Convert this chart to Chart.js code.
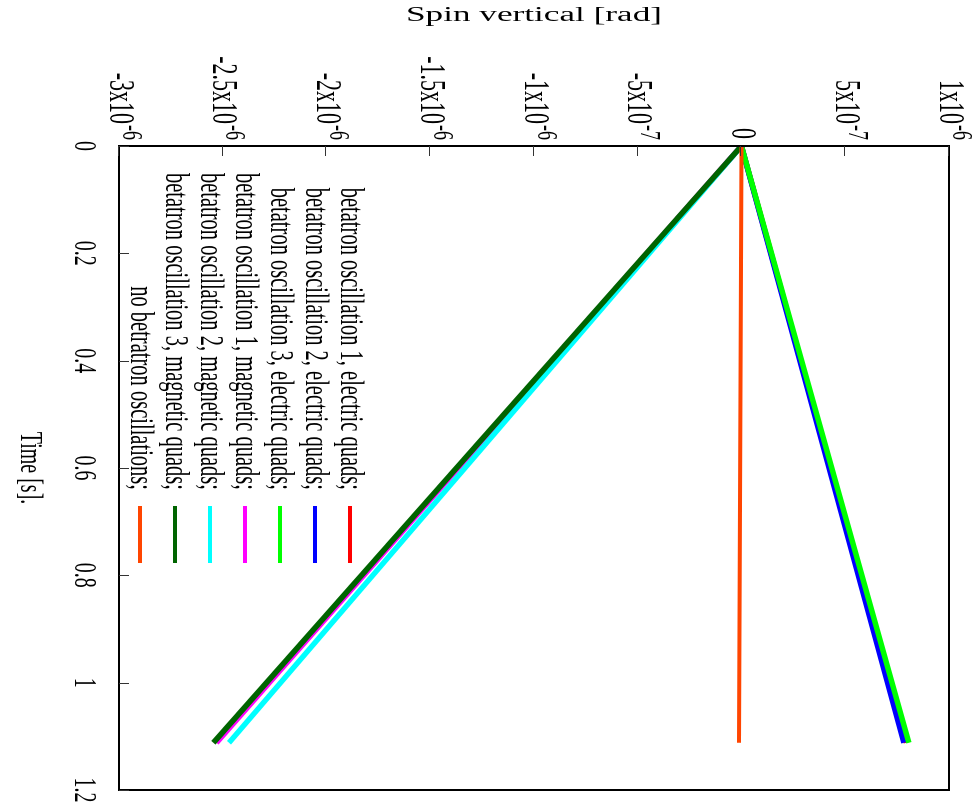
<!DOCTYPE html>
<html>
<head>
<meta charset="utf-8">
<script src="https://cdn.jsdelivr.net/npm/chart.js@4.4.1/dist/chart.umd.min.js"></script>
<style>
  html, body { margin: 0; padding: 0; background: #fff; overflow: hidden; }
  #wrap { position: absolute; left: 0; top: 0; width: 810px; height: 976px;
          transform-origin: 0 0; transform: translate(976px, 0) rotate(90deg); }
</style>
</head>
<body>
<div id="wrap"><canvas id="c" width="810" height="976"></canvas></div>
<script>
// ---- data ----
const seriesNames = [
  'betatron oscillation 1, electric quads;',
  'betatron oscillation 2, electric quads;',
  'betatron oscillation 3, electric quads;',
  'betatron oscillation 1, magnetic quads;',
  'betatron oscillation 2, magnetic quads;',
  'betatron oscillation 3, magnetic quads;',
  'no betratron oscillations;'
];
const seriesColors = ['#ff0000', '#0000ff', '#00ff00', '#ff00ff', '#00ffff', '#006400', '#ff4500'];
const timeValues = [0, 1.112];
const spinOsc1Electric = [0, 0.795e-6];
const spinOsc2Electric = [0, 0.783e-6];
const spinOsc3Electric = [0, 0.807e-6];
const spinOsc1Magnetic = [0, -2.530e-6];
const spinOsc2Magnetic = [0, -2.470e-6];
const spinOsc3Magnetic = [0, -2.545e-6];
const spinNoOsc = [0, -0.012e-6];
const allSpin = [spinOsc1Electric, spinOsc2Electric, spinOsc3Electric,
                 spinOsc1Magnetic, spinOsc2Magnetic, spinOsc3Magnetic, spinNoOsc];

const timeTicks = [0, 0.2, 0.4, 0.6, 0.8, 1, 1.2];
const timeTickLabels = ['0', '0.2', '0.4', '0.6', '0.8', '1', '1.2'];
const spinTicks = [-3e-6, -2.5e-6, -2e-6, -1.5e-6, -1e-6, -5e-7, 0, 5e-7, 1e-6];
const spinTickBase = ['-3x10', '-2.5x10', '-2x10', '-1.5x10', '-1x10', '-5x10', '0', '5x10', '1x10'];
const spinTickExp = ['-6', '-6', '-6', '-6', '-6', '-7', '', '-7', '-6'];
const xTitle = 'Time [s].';
const yTitle = 'Spin vertical [rad]';

// ---- styling ----
const FONT = '"Liberation Serif", "Times New Roman", serif';
const S = 1.6;   // vertical stretch of glyphs seen in the reference

function sText(ctx, txt, x, y, size, align, rot) {
  ctx.save();
  ctx.translate(x, y);
  ctx.scale(1, S);
  if (rot) ctx.rotate(rot);
  ctx.font = size + 'px ' + FONT;
  ctx.textAlign = align || 'center';
  ctx.textBaseline = 'middle';
  ctx.fillStyle = '#000';
  ctx.fillText(txt, 0, 0);
  ctx.restore();
}

const decor = {
  id: 'decor',
  afterDatasetsDraw(chart) {
    const ctx = chart.ctx;
    const a = chart.chartArea;
    const xs = chart.scales.x, ys = chart.scales.y;
    // frame
    ctx.save();
    ctx.strokeStyle = '#000';
    ctx.lineWidth = 2;
    ctx.strokeRect(a.left, a.top, a.right - a.left, a.bottom - a.top);
    // inward ticks
    ctx.lineWidth = 1;
    ctx.strokeStyle = '#333';
    ctx.beginPath();
    timeTicks.forEach(v => {
      const px = Math.round(xs.getPixelForValue(v)) + 0.5;
      ctx.moveTo(px, a.bottom); ctx.lineTo(px, a.bottom - 10);
    });
    spinTicks.forEach(v => {
      const py = Math.round(ys.getPixelForValue(v)) + 0.5;
      ctx.moveTo(a.left, py); ctx.lineTo(a.left + 10, py);
    });
    ctx.stroke();
    ctx.restore();
    // time tick labels
    timeTicks.forEach((v, i) => {
      sText(ctx, timeTickLabels[i], xs.getPixelForValue(v), a.bottom + 36, 20, 'center');
    });
    // spin tick labels with superscript exponent
    spinTicks.forEach((v, i) => {
      const py = ys.getPixelForValue(v);
      const right = a.left - 6;
      ctx.save();
      ctx.font = '18px ' + FONT;
      const ew = spinTickExp[i] ? ctx.measureText(spinTickExp[i]).width : 0;
      ctx.restore();
      sText(ctx, spinTickBase[i], right - ew - 1, py, 22, 'right');
      if (spinTickExp[i]) sText(ctx, spinTickExp[i], right, py - 7 * S, 18, 'right');
    });
    // axis titles
    sText(ctx, xTitle, (a.left + a.right) / 2, 947, 20, 'center');
    sText(ctx, yTitle, 15, (a.top + a.bottom) / 2, 22, 'center', -Math.PI / 2);
    // legend
    seriesNames.forEach((name, i) => {
      const y = 626 + 35 * i;
      sText(ctx, name, 490, y, 20.5, 'right');
      ctx.save();
      ctx.strokeStyle = seriesColors[i];
      ctx.lineWidth = 4;
      ctx.beginPath();
      ctx.moveTo(506, y); ctx.lineTo(563, y);
      ctx.stroke();
      ctx.restore();
    });
  }
};

new Chart(document.getElementById('c'), {
  type: 'scatter',
  data: {
    datasets: allSpin.map((arr, i) => ({
      label: seriesNames[i],
      data: timeValues.map((t, k) => ({ x: t, y: arr[k] })),
      showLine: true,
      borderColor: seriesColors[i],
      backgroundColor: seriesColors[i],
      borderWidth: i === 6 ? 4 : 5.5,
      pointRadius: 0,
      order: -i
    }))
  },
  options: {
    responsive: false,
    animation: false,
    devicePixelRatio: 1,
    layout: { padding: { left: 146, right: 20, top: 27, bottom: 119 } },
    plugins: { legend: { display: false }, tooltip: { enabled: false } },
    scales: {
      x: { type: 'linear', min: 0, max: 1.2, display: false },
      y: { type: 'linear', min: -3e-6, max: 1e-6, display: false }
    }
  },
  plugins: [decor]
});
</script>
</body>
</html>
